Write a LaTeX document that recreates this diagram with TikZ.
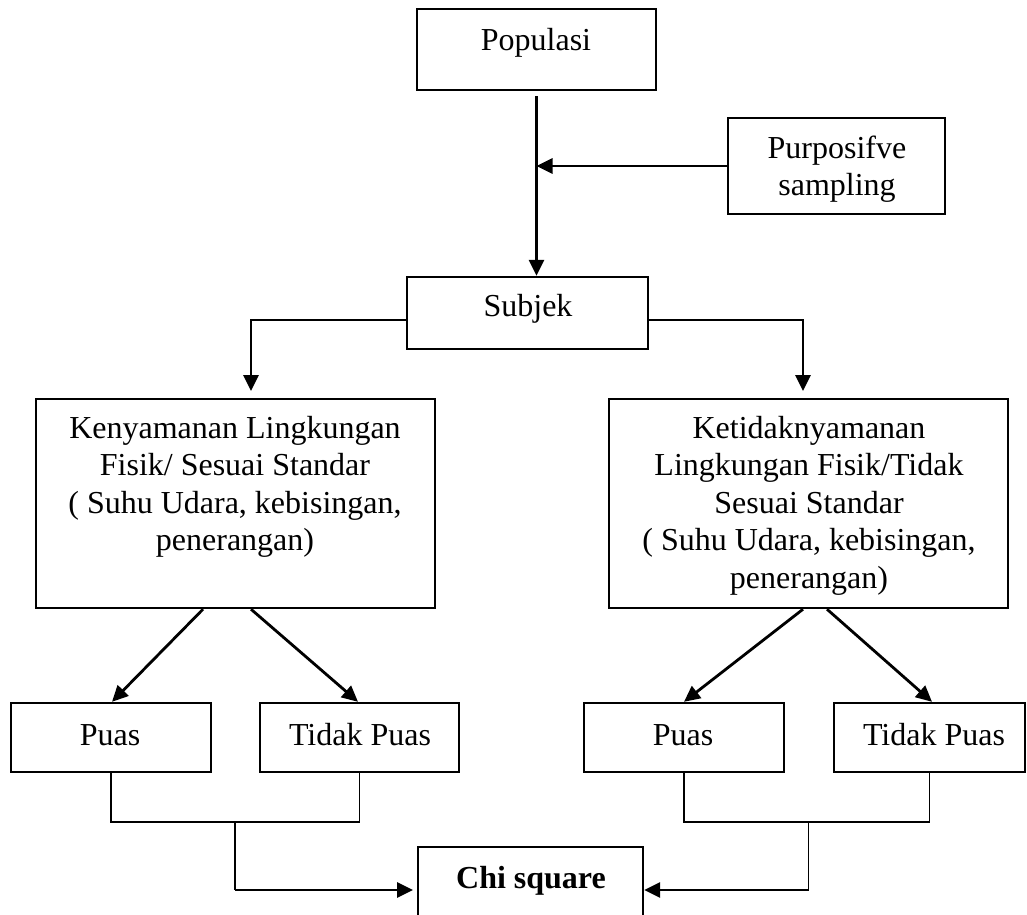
\documentclass[tikz,border=0pt]{standalone}
\usepackage{fontspec}
\setmainfont{Liberation Serif}
\usetikzlibrary{arrows.meta}
\newcommand\mlines[1]{\begin{tabular}[t]{@{}c@{}}#1\end{tabular}}
\begin{document}
\begin{tikzpicture}[x=1pt,y=-1pt,
  box/.style={draw, line width=2.4pt, inner sep=0pt},
  txt/.style={inner sep=0pt, anchor=base, font=\fontsize{32}{37.5}\selectfont},
  arr/.style={line width=2.8pt, -{Triangle[length=16pt,width=15pt]}},
  thinl/.style={line width=1.8pt}]
\clip (0,0) rectangle (1027,914);
\fill[white] (0,0) rectangle (1027,914);
% boxes
\node[box, minimum width=239pt, minimum height=81pt] (pop) at (536.5,49.5) {};
\node[box, minimum width=217pt, minimum height=96pt] (purp) at (836.5,166) {};
\node[box, minimum width=241pt, minimum height=72pt] (subj) at (527.5,313) {};
\node[box, minimum width=399pt, minimum height=209pt] (ken) at (235.5,503.5) {};
\node[box, minimum width=399pt, minimum height=209pt] (ket) at (808.5,503.5) {};
\node[box, minimum width=200pt, minimum height=69pt] (p1) at (111,737.5) {};
\node[box, minimum width=199pt, minimum height=69pt] (tp1) at (359.5,737.5) {};
\node[box, minimum width=200pt, minimum height=69pt] (p2) at (684,737.5) {};
\node[box, minimum width=191pt, minimum height=69pt] (tp2) at (929.5,737.5) {};
\node[box, minimum width=225pt, minimum height=83pt] (chi) at (530.5,888.5) {};
% texts
\node[txt] (poptx) at (536,50) {Populasi};
\node[txt] (purptx) at (837,158) {\mlines{Purposifve\\sampling}};
\node[txt] (subjtx) at (528,316) {Subjek};
\node[txt] (kentx) at (235,438) {\mlines{Kenyamanan Lingkungan\\Fisik/ Sesuai Standar\\( Suhu Udara, kebisingan,\\penerangan)}};
\node[txt] (kettx) at (809,438) {\mlines{Ketidaknyamanan\\Lingkungan Fisik/Tidak\\Sesuai Standar\\( Suhu Udara, kebisingan,\\penerangan)}};
\node[txt] (p1tx) at (110,745) {Puas};
\node[txt] (tp1tx) at (360,745) {Tidak Puas};
\node[txt] (p2tx) at (683,745) {Puas};
\node[txt] (tp2tx) at (934,745) {Tidak Puas};
\node[txt] (chitx) at (531,888) {\bfseries Chi square};
% connectors
\draw[arr] ([yshift=-5pt]pop.south) -- (pop.south |- subj.north);
\draw[arr] (purp.west) -- (purp.west -| pop.south);
\coordinate (kin) at (251,391);
\coordinate (kein) at (803,391);
\draw[arr] ([yshift=-7pt]subj.west) -| (kin);
\draw[arr] ([yshift=-7pt]subj.east) -| (kein);
\draw[arr] ([xshift=-32.5pt]ken.south) -- ([xshift=1pt]p1.north);
\draw[arr] ([xshift=15.5pt]ken.south) -- ([xshift=-1.5pt]tp1.north);
\draw[arr] ([xshift=-5.5pt]ket.south) -- (p2.north);
\draw[arr] ([xshift=18.5pt]ket.south) -- ([xshift=2.5pt]tp2.north);
\coordinate (lj) at (235,822);
\coordinate (lc) at (235,890);
\coordinate (lend) at (413,890);
\coordinate (rj) at (808.5,822);
\coordinate (rc) at (808.5,890);
\draw[thinl] (p1.south) |- (lj) -| (tp1.south);
\draw[thinl] (p2.south) |- (rj) -| (tp2.south);
\draw[thinl] (lj) -- (lc);
\draw[thinl] (rj) -- (rc);
\draw[arr] (lc) -- (lend);
\draw[arr] (rc) -- (rc -| chi.east);
\end{tikzpicture}
\end{document}
